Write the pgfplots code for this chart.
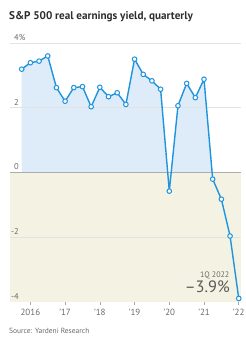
\documentclass[border=0pt]{standalone}
\usepackage{fontspec}
\setmainfont{PT Sans}
\usepackage{pgfplots}
\usepackage{pgfplotstable}
\pgfplotsset{compat=1.18}
\usepgfplotslibrary{fillbetween}
\definecolor{lineblue}{RGB}{30,148,222}
\definecolor{fillblue}{RGB}{222,236,249}
\definecolor{beige}{RGB}{244,243,227}
\definecolor{fillgray}{RGB}{221,227,227}
\definecolor{txtgray}{RGB}{105,105,105}
\definecolor{titlegray}{RGB}{45,45,45}
% q = quarter index: 0 = 4Q2015, 1 = 1Q2016, ..., 25 = 1Q2022
\pgfplotstableread{
q y
0 3.19
1 3.39
2 3.44
3 3.60
4 2.62
5 2.20
6 2.62
7 2.65
8 2.03
9 2.63
10 2.34
11 2.46
12 2.10
13 3.50
14 3.03
15 2.83
16 2.57
17 -0.58
18 2.06
19 2.75
20 2.31
21 2.88
22 -0.21
23 -0.83
24 -1.97
25 -3.90
}\yielddata
\begin{document}
\begin{tikzpicture}
\begin{axis}[
  at={(0,0)}, anchor=south west,
  scale only axis, width=231bp, height=258.7bp,
  xmin=-1.348, xmax=25.26, ymin=-4, ymax=4,
  axis on top,
  axis x line*=bottom, axis y line*=left,
  x axis line style={draw=none}, y axis line style={draw=none},
  xtick={1,5,9,13,17,21,25},
  xticklabels={2016,'17,'18,'19,'20,'21,'22},
  ytick={-4,-2,0,2,4},
  yticklabels={\llap{-}4,\llap{-}2,0,2,4\%},
  ytick style={draw=none},
  xtick style={gray!70, line width=0.6bp},
  tick align=outside, major tick length=3bp,
  x tick label style={font=\fontsize{9}{10}\selectfont, text=txtgray, yshift=-0.5bp},
  y tick label style={font=\fontsize{8.5}{10}\selectfont, text=txtgray, anchor=base west, inner sep=0pt, xshift=7bp, yshift=2.5bp},
]
\fill[beige] (axis cs:-1.348,-4) rectangle (axis cs:25.26,0);
\addplot[name path=curve, draw=none, forget plot] table[x=q,y=y] {\yielddata};
\addplot[name path=zero, draw=none, forget plot] coordinates {(0,0) (25,0)};
\addplot[fillblue, forget plot] fill between[of=curve and zero, split,
  every even segment/.style={fill=fillblue},
  every odd segment/.style={fill=fillgray}];
\addplot[gray!22, line width=0.6bp, forget plot] coordinates {(-1.6,4) (25.8,4)};
\addplot[gray!22, line width=0.6bp, forget plot] coordinates {(-1.6,2) (25.8,2)};
\addplot[gray!22, line width=0.6bp, forget plot] coordinates {(-1.348,-2) (25.26,-2)};
\addplot[gray!65, line width=0.9bp, forget plot] coordinates {(-1.348,0) (25.26,0)};
\addplot[lineblue, line width=1.4bp, mark=*, mark size=2.3bp,
  mark options={fill=white, draw=lineblue, line width=1bp}] table[x=q,y=y] {\yielddata};
\node[anchor=base east, inner sep=0pt, text=txtgray, font=\fontsize{8}{9}\selectfont] at (axis cs:23.94,-3.256) {1Q 2022};
\node[anchor=base east, inner sep=0pt, text=txtgray!85!black, font=\fontsize{16.5}{18}\selectfont] at (axis cs:24,-3.73) {\textendash3.9\%};
\end{axis}
\node[anchor=base west, inner sep=0pt, text=titlegray, font=\bfseries\fontsize{11.2}{13}\selectfont] at (-1bp,281.7bp) {S\&P 500 real earnings yield, quarterly};
\node[anchor=base west, inner sep=0pt, text=txtgray, font=\fontsize{7.5}{9}\selectfont] at (-1bp,-31.3bp) {Source: Yardeni Research};
\pgfresetboundingbox
\path (-10bp,-37.3bp) rectangle (236bp,301.7bp);
\end{tikzpicture}
\end{document}
